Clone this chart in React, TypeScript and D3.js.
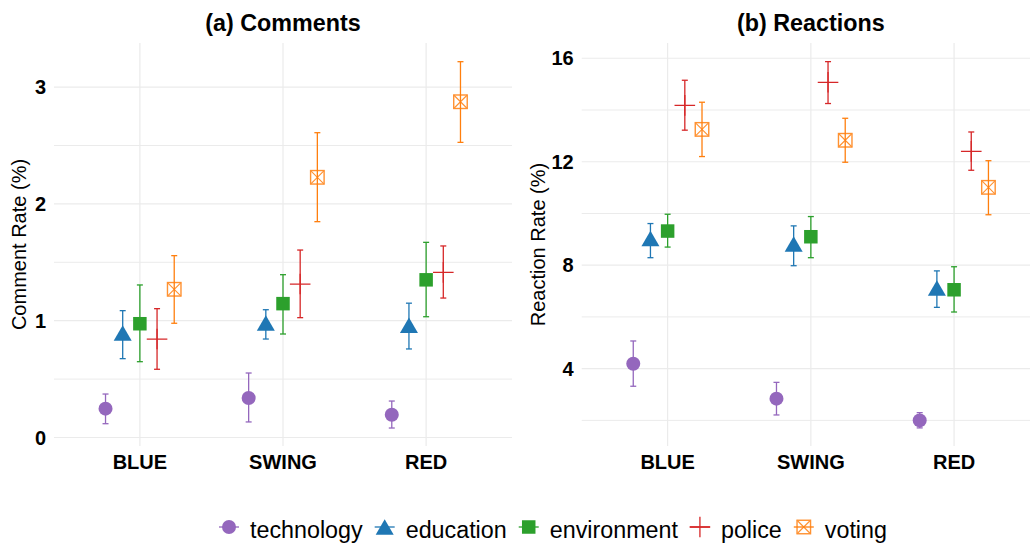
import React from "react";
import * as d3 from "d3";

const categories = ["BLUE", "SWING", "RED"];
const series = ["technology", "education", "environment", "police", "voting"];
const colors = ["#9467bd", "#1f77b4", "#2ca02c", "#d62728", "#ff7f0e"];
const shapes = ["circle", "triangle", "square", "plus", "boxx"];

// Comments (%) : rows = series, cols = categories
const commentMean = [
  [0.247, 0.338, 0.195],
  [0.895, 0.98, 0.96],
  [0.974, 1.146, 1.35],
  [0.843, 1.314, 1.414],
  [1.269, 2.228, 2.875],
];
const commentLow = [
  [0.118, 0.133, 0.081],
  [0.675, 0.843, 0.758],
  [0.649, 0.886, 1.034],
  [0.584, 1.026, 1.194],
  [0.978, 1.848, 2.527],
];
const commentHigh = [
  [0.372, 0.552, 0.312],
  [1.086, 1.094, 1.15],
  [1.306, 1.394, 1.671],
  [1.103, 1.605, 1.64],
  [1.557, 2.61, 3.218],
];

// Reactions (%)
const reactionMean = [
  [4.19, 2.84, 2.0],
  [9.03, 8.82, 7.12],
  [9.32, 9.1, 7.05],
  [14.18, 15.07, 12.4],
  [13.25, 12.83, 11.01],
];
const reactionLow = [
  [3.32, 2.21, 1.71],
  [8.29, 7.98, 6.37],
  [8.7, 8.29, 6.19],
  [13.22, 14.25, 11.67],
  [12.2, 11.98, 9.95],
];
const reactionHigh = [
  [5.07, 3.47, 2.3],
  [9.61, 9.52, 7.78],
  [9.97, 9.88, 7.94],
  [15.15, 15.87, 13.15],
  [14.3, 13.68, 12.04],
];

const commentTicks = [0, 1, 2, 3];
const commentMinor = [0.5, 1.5, 2.5];
const reactionTicks = [4, 8, 12, 16];
const reactionMinor = [2, 6, 10, 14];

const FONT = "'Liberation Sans', Arial, Helvetica, sans-serif";
const GRID = "#ebebeb";

function Marker({ shape, color, x, y }: { shape: string; color: string; x: number; y: number }) {
  if (shape === "circle") return <circle cx={x} cy={y} r={7} fill={color} />;
  if (shape === "triangle") {
    const w = 18, h = 15.5;
    return (
      <path
        d={`M${x - w / 2},${y + h / 2}L${x + w / 2},${y + h / 2}L${x},${y - h / 2}Z`}
        fill={color}
      />
    );
  }
  if (shape === "square") {
    const s = 13.5;
    return <rect x={x - s / 2} y={y - s / 2} width={s} height={s} fill={color} />;
  }
  if (shape === "plus") {
    const a = 10.3;
    return (
      <path
        d={`M${x - a},${y}L${x + a},${y}M${x},${y - a}L${x},${y + a}`}
        stroke={color}
        strokeWidth={1.3}
        fill="none"
      />
    );
  }
  const s = 13.5;
  const h = s / 2;
  return (
    <g stroke={color} strokeWidth={1.4} fill="none" opacity={0.85}>
      <rect x={x - h} y={y - h} width={s} height={s} />
      <path d={`M${x - h},${y - h}L${x + h},${y + h}M${x - h},${y + h}L${x + h},${y - h}`} strokeWidth={1.1} />
    </g>
  );
}

function Panel({
  x0, x1, y0, y1, domain, ticks, minor, mean, low, high, title, ylab, ylabX,
}: {
  x0: number; x1: number; y0: number; y1: number; domain: [number, number];
  ticks: number[]; minor: number[]; mean: number[][]; low: number[][]; high: number[][];
  title: string; ylab: string; ylabX: number;
}) {
  const xs = d3.scalePoint<string>().domain(categories).range([x0, x1]).padding(0.6);
  const step = xs.step();
  const dodge = d3.scaleBand<string>().domain(series).range([-0.3 * step, 0.3 * step]);
  const ys = d3.scaleLinear().domain(domain).range([y1, y0]);
  const cap = 3;
  const cx = (x0 + x1) / 2;
  return (
    <g>
      {minor.map((t) => (
        <line key={"mn" + t} x1={x0} x2={x1} y1={ys(t)} y2={ys(t)} stroke={GRID} strokeWidth={1} />
      ))}
      {ticks.map((t) => (
        <line key={"mj" + t} x1={x0} x2={x1} y1={ys(t)} y2={ys(t)} stroke={GRID} strokeWidth={1.2} />
      ))}
      {categories.map((c) => (
        <line key={"v" + c} x1={xs(c)} x2={xs(c)} y1={y0} y2={y1} stroke={GRID} strokeWidth={1.2} />
      ))}
      {ticks.map((t) => (
        <text
          key={"tl" + t}
          x={x0 - 8}
          y={ys(t)}
          dy="0.36em"
          textAnchor="end"
          fontFamily={FONT}
          fontWeight="bold"
          fontSize={20}
          fill="#000"
        >
          {t}
        </text>
      ))}
      {categories.map((c) => (
        <text
          key={"xl" + c}
          x={xs(c)}
          y={469}
          textAnchor="middle"
          fontFamily={FONT}
          fontWeight="bold"
          fontSize={20}
          fill="#000"
        >
          {c}
        </text>
      ))}
      <text x={cx} y={31} textAnchor="middle" fontFamily={FONT} fontWeight="bold" fontSize={23.3} fill="#000">
        {title}
      </text>
      <text
        transform={`translate(${ylabX},${(y0 + y1) / 2}) rotate(-90)`}
        textAnchor="middle"
        fontFamily={FONT}
        fontSize={20}
        fill="#000"
      >
        {ylab}
      </text>
      {series.map((s, si) =>
        categories.map((c, ci) => {
          const px = (xs(c) as number) + (dodge(s) as number) + dodge.bandwidth() / 2;
          const yl = ys(low[si][ci]);
          const yh = ys(high[si][ci]);
          return (
            <g key={"eb" + s + c} stroke={colors[si]} strokeWidth={1.3} fill="none">
              <line x1={px} x2={px} y1={yl} y2={yh} />
              <line x1={px - cap} x2={px + cap} y1={yl} y2={yl} />
              <line x1={px - cap} x2={px + cap} y1={yh} y2={yh} />
            </g>
          );
        })
      )}
      {series.map((s, si) =>
        categories.map((c, ci) => {
          const px = (xs(c) as number) + (dodge(s) as number) + dodge.bandwidth() / 2;
          return <Marker key={"m" + s + c} shape={shapes[si]} color={colors[si]} x={px} y={ys(mean[si][ci])} />;
        })
      )}
    </g>
  );
}

function measure(text: string, font: string): number {
  try {
    const cv = document.createElement("canvas");
    const ctx = cv.getContext("2d");
    if (ctx) {
      ctx.font = font;
      return ctx.measureText(text).width;
    }
  } catch (e) {}
  return text.length * 11;
}

function Legend() {
  const ly = 527;
  const fontSize = 23.3;
  let x = 219;
  const items = series.map((s, i) => {
    const kx = x + 10;
    const tx = x + 31;
    const w = measure(s, `${fontSize}px 'Liberation Sans', Arial, sans-serif`);
    x = tx + w + 12;
    return (
      <g key={"lg" + s}>
        <line x1={kx - 10} x2={kx + 10} y1={ly} y2={ly} stroke={colors[i]} strokeWidth={1.3} />
        <Marker shape={shapes[i]} color={colors[i]} x={kx} y={ly} />
        <text x={tx} y={538} fontFamily={FONT} fontSize={fontSize} fill="#000">
          {s}
        </text>
      </g>
    );
  });
  return <g>{items}</g>;
}

export default function App() {
  return (
    <div style={{ position: "absolute", left: 0, top: 0 }}>
      <svg width={1030} height={546} style={{ display: "block", background: "#fff" }}>
        <Panel
          x0={54}
          x1={512}
          y0={43}
          y1={446}
          domain={[-0.073, 3.378]}
          ticks={commentTicks}
          minor={commentMinor}
          mean={commentMean}
          low={commentLow}
          high={commentHigh}
          title="(a) Comments"
          ylab="Comment Rate (%)"
          ylabX={26}
        />
        <Panel
          x0={581.7}
          x1={1040}
          y0={43}
          y1={446}
          domain={[1.01, 16.59]}
          ticks={reactionTicks}
          minor={reactionMinor}
          mean={reactionMean}
          low={reactionLow}
          high={reactionHigh}
          title="(b) Reactions"
          ylab="Reaction Rate (%)"
          ylabX={544.5}
        />
        <Legend />
      </svg>
    </div>
  );
}
